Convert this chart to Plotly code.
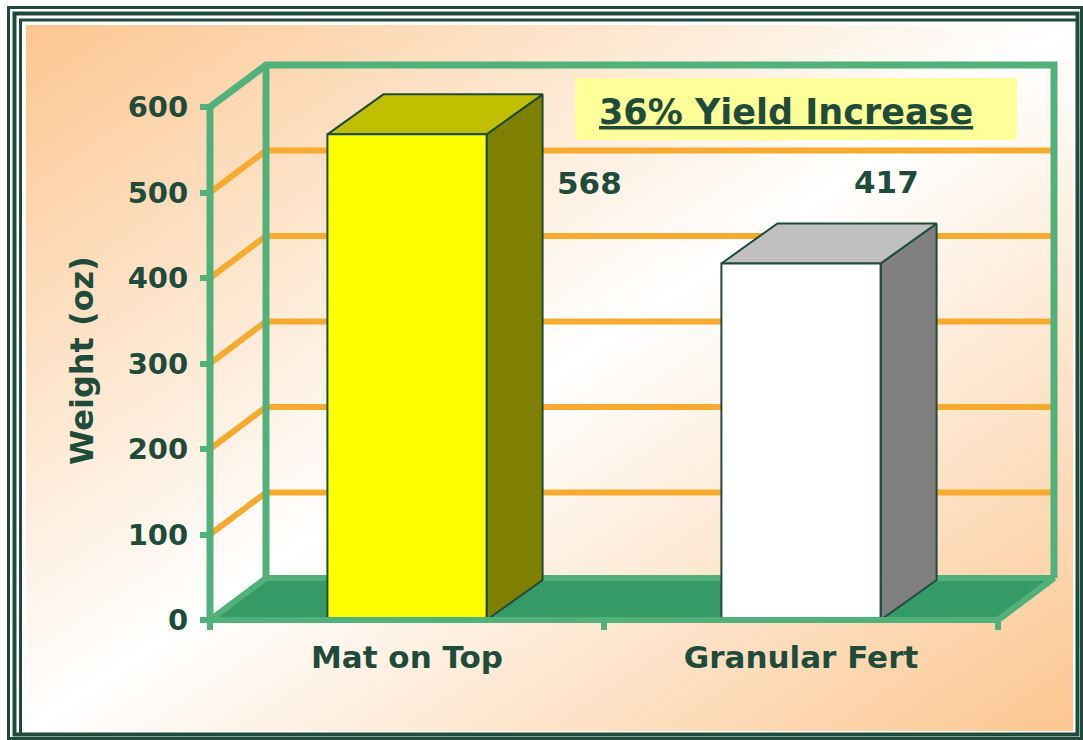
import base64

import plotly.graph_objects as go


categories = ['Mat on Top', 'Granular Fert']
weights = [568, 417]
y_ticks = [0, 100, 200, 300, 400, 500, 600]
callout = '36% Yield Increase'

front_colors = ['#ffff00', '#ffffff']
top_colors = ['#c0c000', '#c0c0c0']
side_colors = ['#808000', '#808080']

W, H = 1083, 740
DARK = '#1f4b3b'
FRAME = '#52b07b'
FLOOR = '#359a65'
GRID = '#f6ab30'
PEACH = '#fcc690'
FONT = 'DejaVu Sans'

# scale of the fake 3D box (pixels per unit) and where its front corner sits
X_PX = 394.0
Y_PX = 0.855
X_LEFT = 210
Y_ZERO = 620

x0 = -0.5 - X_LEFT / X_PX
x1 = x0 + W / X_PX
y0 = -(H - Y_ZERO) / Y_PX
y1 = Y_ZERO / Y_PX

DX, DY = 56 / X_PX, 42 / Y_PX      # depth of the box
BDX, BDY = 56 / X_PX, 40 / Y_PX    # depth of each bar
BW = 0.404
TOP = y_ticks[-1]
XL, XR = -0.5, len(categories) - 0.5


def px(x):
    return x / W


def py(y):
    return 1 - y / H


def face(xs, ys, color, line_color=DARK, lw=2):
    return go.Scatter(x=xs + xs[:1], y=ys + ys[:1], mode='lines', fill='toself',
                      fillcolor=color, line=dict(color=line_color, width=lw),
                      hoverinfo='skip', showlegend=False)


def seg(xs, ys, color, lw):
    return go.Scatter(x=xs, y=ys, mode='lines', line=dict(color=color, width=lw),
                      hoverinfo='skip', showlegend=False)


fig = go.Figure()

# floor
fig.add_trace(face([XL, XR, XR + DX, XL + DX], [0, 0, DY, DY], FLOOR, FRAME, 6))

# gridlines on the side wall and back wall
for v in y_ticks[1:-1]:
    fig.add_trace(seg([XL, XL + DX, XR + DX], [v, v + DY, v + DY], GRID, 6))

# green frame
fig.add_trace(seg([XL, XL, XL + DX, XR + DX, XR + DX], [0, TOP, TOP + DY, TOP + DY, DY], FRAME, 7))
fig.add_trace(seg([XL + DX, XL + DX], [DY, TOP + DY], FRAME, 7))

# bars
for i, v in enumerate(weights):
    a, b = i - BW / 2, i + BW / 2
    fig.add_trace(face([b, b + BDX, b + BDX, b], [0, BDY, v + BDY, v], side_colors[i]))
    fig.add_trace(face([a, b, b + BDX, a + BDX], [v, v, v + BDY, v + BDY], top_colors[i]))
    fig.add_trace(face([a, b, b, a], [0, 0, v, v], front_colors[i]))

# front floor edge on top
fig.add_trace(seg([XL, XR, XR + DX], [0, 0, DY], FRAME, 6))

# value labels (placed where the original slide put them)
label_pos = [(0.462, 511), (1.216, 512)]
for (lx, ly), v in zip(label_pos, weights):
    fig.add_annotation(x=lx, y=ly, text=str(v), showarrow=False,
                       xanchor='center', yanchor='middle',
                       font=dict(family=FONT, size=31, color=DARK, weight='bold'))

fig.add_annotation(xref='paper', x=px(82), y=303, text='Weight (oz)', textangle=-90,
                   showarrow=False, xanchor='center', yanchor='middle',
                   font=dict(family=FONT, size=32, color=DARK, weight='bold'))

fig.add_annotation(xref='paper', yref='paper', x=px(786), y=py(112),
                   text='<u>' + callout + '</u>', showarrow=False,
                   xanchor='center', yanchor='middle',
                   font=dict(family=FONT, size=35, color=DARK, weight='bold'))

# background gradient panel
svg = ('<svg xmlns="http://www.w3.org/2000/svg" width="100" height="100" '
       'viewBox="0 0 100 100" preserveAspectRatio="none"><defs>'
       '<linearGradient id="g" x1="0" y1="0" x2="1" y2="1">'
       f'<stop offset="0" stop-color="{PEACH}"/><stop offset="0.5" stop-color="#ffffff"/>'
       f'<stop offset="1" stop-color="{PEACH}"/></linearGradient></defs>'
       '<rect width="100" height="100" fill="url(#g)"/></svg>')
src = 'data:image/svg+xml;base64,' + base64.b64encode(svg.encode()).decode()

shapes = [
    dict(type='rect', xref='paper', yref='paper', x0=px(8.5), x1=px(1081.5), y0=py(7.5), y1=py(738.5),
         line=dict(color=DARK, width=3)),
    dict(type='rect', xref='paper', yref='paper', x0=px(14.5), x1=px(1077.5), y0=py(13.5), y1=py(734.5),
         line=dict(color=DARK, width=4)),
    dict(type='rect', xref='paper', yref='paper', x0=px(20.5), x1=px(1077.5), y0=py(20), y1=py(734.5),
         line=dict(color=DARK, width=3)),
    dict(type='rect', xref='paper', yref='paper', x0=px(575), x1=px(1017), y0=py(78), y1=py(140),
         fillcolor='#ffff99', line=dict(width=0), layer='below'),
]

fig.update_layout(
    width=W,
    height=H,
    margin=dict(l=0, r=0, t=0, b=0),
    paper_bgcolor='white',
    plot_bgcolor='rgba(0,0,0,0)',
    shapes=shapes,
    images=[dict(source=src, xref='paper', yref='paper', x=px(26), y=py(25),
                 sizex=px(1073 - 26), sizey=(731 - 25) / H, sizing='stretch',
                 xanchor='left', yanchor='top', layer='below')],
    xaxis=dict(
        range=[x0, x1], showgrid=False, zeroline=False, showline=False,
        tickmode='array', tickvals=list(range(len(categories))), ticktext=categories,
        ticks='', tickfont=dict(family=FONT, size=31, color=DARK, weight='bold'),
        anchor='free', position=(H - Y_ZERO) / H, ticklabelstandoff=16,
        minor=dict(tickmode='array', tickvals=[XL, 0.5, XR], ticks='outside',
                   ticklen=9, tickwidth=6, tickcolor=FRAME),
    ),
    yaxis=dict(
        range=[y0, y1], showgrid=False, zeroline=False, showline=False,
        tickmode='array', tickvals=y_ticks, ticks='outside', ticklen=10,
        tickwidth=6, tickcolor=FRAME,
        tickfont=dict(family=FONT, size=29, color=DARK, weight='bold'),
        anchor='free', position=X_LEFT / W, ticklabelstandoff=6,
    ),
)

fig.write_html("out.html", config={'displayModeBar': False},
               post_script="document.body.style.margin='0';document.body.style.overflow='hidden';")
